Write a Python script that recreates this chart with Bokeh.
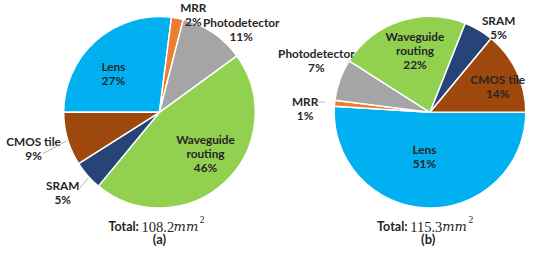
import math
from bokeh.plotting import figure
from bokeh.models import Range1d, ColumnDataSource
from bokeh.core.properties import value
from bokeh.embed import file_html
from bokeh.resources import INLINE

# ---------------- data ----------------
categories = ["Lens", "MRR", "Photodetector", "Waveguide routing", "SRAM", "CMOS tile"]
pct_a = [27, 2, 11, 46, 5, 9]
pct_b = [51, 1, 7, 22, 5, 14]
total_a = "108.2"
total_b = "115.3"
panel_a = "(a)"
panel_b = "(b)"

# ---------------- styles / layout ----------------
colors = {
    "Lens": "#00B0F0",
    "MRR": "#ED7D31",
    "Photodetector": "#A5A5A5",
    "Waveguide routing": "#92D050",
    "SRAM": "#264478",
    "CMOS tile": "#9E480E",
}
REF_W, REF_H = 550, 264
W, H = 534, 248
S = H / REF_H  # screen px per reference px
FONT = "Lato"
TXT = "#262626"
LBL = "11.8px"

def Y(y):
    return REF_H - y

# pie geometry in reference-pixel coordinates
pie_a = dict(cx=160, cy=119, r=102, start=180)
pie_b = dict(cx=448, cy=119, r=102, start=0)

# label anchor (x, first line y) in reference pixels
label_pos_a = {
    "Lens": (111, 70), "MRR": (196, 7), "Photodetector": (247, 23),
    "Waveguide routing": (209, 148), "SRAM": (57, 197), "CMOS tile": (26, 150),
}
label_pos_b = {
    "Lens": (442, 159), "MRR": (315, 107), "Photodetector": (327, 56),
    "Waveguide routing": (432, 38), "SRAM": (521, 21), "CMOS tile": (520, 84),
}
split_names = {"Waveguide routing": ["Waveguide", "routing"]}
STEP = 15

leaders_a = [((36, 163), (62, 149)), ((75, 200), (84, 189))]
leaders_b = [((328, 108), (336, 108))]

x0 = REF_W / 2 - (W / S) / 2
p = figure(width=W, height=H, output_backend="svg", toolbar_location=None,
           x_range=Range1d(x0, x0 + W / S), y_range=Range1d(0, REF_H),
           min_border=0)
p.axis.visible = False
p.grid.visible = False
p.outline_line_color = None
p.background_fill_color = "white"
p.border_fill_color = "white"


def draw_pie(pct, geo, label_pos, leaders):
    total = sum(pct)
    starts, ends = [], []
    cum = 0
    for v in pct:
        a0 = geo["start"] - cum / total * 360
        cum += v
        a1 = geo["start"] - cum / total * 360
        # clockwise slices: drawn anticlockwise from a1 to a0
        starts.append(math.radians(a1))
        ends.append(math.radians(a0))
    src = ColumnDataSource(dict(
        cat=categories, pct=pct, start=starts, end=ends,
        color=[colors[c] for c in categories]))
    p.wedge(x=geo["cx"], y=Y(geo["cy"]), radius=geo["r"],
            start_angle="start", end_angle="end", direction="anticlock",
            fill_color="color", line_color="white", line_width=1.5, source=src)
    xs, ys, ts = [], [], []
    for c, v in zip(categories, pct):
        lx, ly = label_pos[c]
        lines = split_names.get(c, [c]) + [f"{v}%"]
        for i, t in enumerate(lines):
            xs.append(lx)
            ys.append(Y(ly + i * STEP))
            ts.append(t)
    p.text(x=xs, y=ys, text=ts, text_font=value(FONT), text_font_style="bold",
           text_font_size=LBL, text_color=TXT, text_align="center",
           text_baseline="middle")
    for (a, b) in leaders:
        p.segment(x0=a[0], y0=Y(a[1]), x1=b[0], y1=Y(b[1]),
                  line_color="#A6A6A6", line_width=0.8)


draw_pie(pct_a, pie_a, label_pos_a, leaders_a)
draw_pie(pct_b, pie_b, label_pos_b, leaders_b)


def draw_total(c, total, panel):
    base = Y(241)
    p.text(x=[c - 22], y=[base], text=["Total:"], text_font=value(FONT),
           text_font_style="bold", text_font_size="12.5px",
           text_color=TXT, text_align="right", text_baseline="alphabetic")
    p.text(x=[c - 19], y=[base], text=[total], text_font=value("Liberation Serif"),
           text_font_size="14.5px", text_color=TXT,
           text_align="left", text_baseline="alphabetic")
    p.text(x=[c + 15], y=[base], text=["mm"], text_font=value("DejaVu Serif"),
           text_font_style="italic", text_font_size="13px",
           text_color=TXT, text_align="left", text_baseline="alphabetic")
    p.text(x=[c + 43], y=[Y(233)], text=["2"], text_font=value("Liberation Serif"),
           text_font_size="9.5px", text_color=TXT,
           text_align="left", text_baseline="alphabetic")
    p.text(x=[c], y=[Y(254)], text=[panel], text_font=value(FONT),
           text_font_style="bold", text_font_size="13px",
           text_color=TXT, text_align="center", text_baseline="middle")


draw_total(160, total_a, panel_a)
draw_total(446, total_b, panel_b)

open("out.html", "w").write(file_html(p, INLINE))
